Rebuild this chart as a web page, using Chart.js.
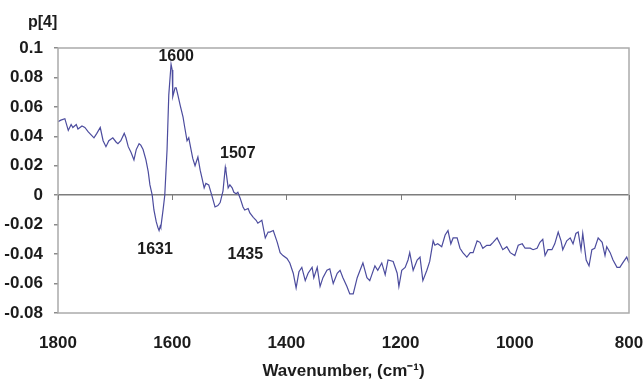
<!DOCTYPE html>
<html>
<head>
<meta charset="utf-8">
<title>p[4] loading</title>
<script src="https://cdn.jsdelivr.net/npm/chart.js@4.4.1/dist/chart.umd.min.js"></script>
<style>
  html, body { margin: 0; padding: 0; background: #fff; }
  canvas { display: block; }
</style>
</head>
<body>
<canvas id="chart" width="644" height="385"></canvas>
<script>
// ---------- Data ----------

// wavenumber (cm-1), high to low
const wavenumbers = [
  1800, 1795, 1788, 1782, 1777, 1774, 1768, 1765, 1758, 1753,
  1747, 1742, 1737, 1732, 1726, 1721, 1716, 1711, 1704, 1698,
  1695, 1690, 1684, 1681, 1677, 1672, 1667, 1663, 1658, 1655,
  1651, 1646, 1642, 1639, 1635, 1632, 1628, 1625, 1623, 1621,
  1620, 1616, 1613, 1609, 1606, 1602, 1600, 1599, 1595, 1593,
  1590, 1586, 1581, 1578, 1574, 1571, 1567, 1564, 1560, 1555,
  1551, 1548, 1544, 1541, 1536, 1530, 1525, 1520, 1516, 1511,
  1507, 1506, 1502, 1499, 1495, 1492, 1488, 1485, 1481, 1476,
  1473, 1467, 1464, 1458, 1453, 1450, 1443, 1437, 1432, 1429,
  1423, 1416, 1411, 1406, 1399, 1394, 1388, 1383, 1378, 1373,
  1367, 1362, 1355, 1352, 1346, 1341, 1336, 1329, 1324, 1318,
  1311, 1306, 1301, 1294, 1289, 1283, 1276, 1271, 1266, 1259,
  1254, 1245, 1240, 1233, 1227, 1222, 1213, 1206, 1203, 1198,
  1192, 1187, 1184, 1178, 1171, 1166, 1161, 1154, 1149, 1143,
  1140, 1135, 1128, 1122, 1117, 1112, 1108, 1101, 1096, 1091,
  1084, 1078, 1073, 1066, 1061, 1056, 1049, 1043, 1038, 1031,
  1026, 1021, 1014, 1008, 1000, 994, 987, 982, 973, 968,
  961, 956, 951, 947, 942, 935, 930, 924, 919, 916,
  909, 903, 898, 893, 889, 884, 881, 875, 870, 865,
  860, 854, 847, 842, 839, 833, 828, 821, 816, 811,
  804, 800,
];

// loading p[4] at each wavenumber
const loadings = [
  0.050, 0.051, 0.052, 0.044, 0.048, 0.046, 0.048, 0.045, 0.047, 0.046,
  0.043, 0.041, 0.039, 0.042, 0.046, 0.037, 0.033, 0.037, 0.039, 0.036,
  0.035, 0.037, 0.042, 0.039, 0.033, 0.029, 0.024, 0.031, 0.035, 0.034,
  0.031, 0.024, 0.016, 0.007, 0.000, -0.010, -0.018, -0.022, -0.024, -0.021,
  -0.022, -0.010, 0.000, 0.031, 0.068, 0.089, 0.085, 0.067, 0.073, 0.073,
  0.068, 0.061, 0.053, 0.046, 0.037, 0.039, 0.031, 0.025, 0.020, 0.026,
  0.017, 0.012, 0.005, 0.008, 0.007, -0.001, -0.008, -0.007, -0.005, 0.003,
  0.019, 0.017, 0.005, 0.007, 0.005, 0.002, 0.001, 0.002, -0.002, -0.008,
  -0.010, -0.009, -0.012, -0.015, -0.017, -0.019, -0.017, -0.029, -0.025, -0.025,
  -0.024, -0.032, -0.039, -0.041, -0.043, -0.046, -0.053, -0.063, -0.052, -0.049,
  -0.058, -0.053, -0.049, -0.056, -0.049, -0.062, -0.056, -0.051, -0.050, -0.060,
  -0.053, -0.051, -0.056, -0.062, -0.067, -0.067, -0.056, -0.051, -0.046, -0.056,
  -0.058, -0.048, -0.051, -0.046, -0.054, -0.044, -0.045, -0.053, -0.062, -0.051,
  -0.049, -0.044, -0.039, -0.051, -0.044, -0.042, -0.058, -0.051, -0.045, -0.031,
  -0.034, -0.033, -0.035, -0.027, -0.024, -0.033, -0.029, -0.029, -0.036, -0.039,
  -0.042, -0.039, -0.039, -0.031, -0.032, -0.036, -0.034, -0.034, -0.032, -0.029,
  -0.033, -0.037, -0.035, -0.039, -0.041, -0.034, -0.033, -0.036, -0.036, -0.037,
  -0.036, -0.032, -0.030, -0.041, -0.037, -0.037, -0.033, -0.025, -0.031, -0.037,
  -0.031, -0.029, -0.033, -0.026, -0.025, -0.037, -0.026, -0.044, -0.048, -0.037,
  -0.036, -0.029, -0.032, -0.041, -0.035, -0.039, -0.044, -0.049, -0.049, -0.046,
  -0.042, -0.046,
];

// band labels and where their text sits (wavenumber, p[4])
const bandLabels = ['1600', '1507', '1631', '1435'];
const bandLabelX = [1593, 1485, 1630, 1472];
const bandLabelY = [0.094, 0.028, -0.037, -0.040];

const xTitle = 'Wavenumber, (cm⁻¹)';
const yCaption = 'p[4]';

// ---------- Chart ----------

const FONT = '"Liberation Sans", Arial, sans-serif';
const INK = '#1c1c1c';

Chart.defaults.font.family = FONT;
Chart.defaults.font.size = 17;
Chart.defaults.font.weight = 'bold';
Chart.defaults.color = INK;

const points = wavenumbers.map((w, i) => ({ x: w, y: loadings[i] }));

// frame, little marks on the zero line, band labels, p[4] caption
const spectrumDecor = {
  id: 'spectrumDecor',
  afterDraw(chart) {
    const { ctx, chartArea: a, scales: { x, y } } = chart;
    ctx.save();

    ctx.strokeStyle = '#ababab';
    ctx.lineWidth = 1.5;
    ctx.strokeRect(a.left, a.top, a.right - a.left, a.bottom - a.top);

    const y0 = Math.round(y.getPixelForValue(0));
    ctx.strokeStyle = '#7d7d7d';
    ctx.lineWidth = 1;
    x.ticks.forEach(t => {
      const px = Math.round(x.getPixelForValue(t.value)) + 0.5;
      ctx.beginPath();
      ctx.moveTo(px, y0);
      ctx.lineTo(px, y0 + 5);
      ctx.stroke();
    });

    ctx.fillStyle = INK;
    ctx.font = 'bold 16px ' + FONT;
    ctx.textAlign = 'center';
    ctx.textBaseline = 'middle';
    bandLabels.forEach((txt, i) => {
      ctx.fillText(txt, x.getPixelForValue(bandLabelX[i]), y.getPixelForValue(bandLabelY[i]));
    });

    ctx.textAlign = 'left';
    ctx.fillText(yCaption, 28, 23);
    ctx.restore();
  },
};

new Chart(document.getElementById('chart'), {
  type: 'line',
  data: {
    datasets: [{
      data: points,
      borderColor: '#4c4c9e',
      borderWidth: 1.2,
      pointRadius: 0,
      tension: 0,
      fill: false,
    }],
  },
  options: {
    responsive: false,
    animation: false,
    devicePixelRatio: 1,
    layout: { padding: { top: 48, right: 15, left: 0, bottom: 0 } },
    plugins: {
      legend: { display: false },
      tooltip: { enabled: false },
    },
    scales: {
      x: {
        type: 'linear',
        reverse: true,
        min: 800,
        max: 1800,
        border: { display: false },
        grid: { display: false },
        ticks: {
          stepSize: 200,
          padding: 12,
          maxRotation: 0,
          callback: (v) => String(v),
        },
        title: {
          display: true,
          text: xTitle,
          font: { size: 17, weight: 'bold' },
          padding: { top: 0, bottom: 3 },
        },
        afterFit: (scale) => {
          scale.height = 72;
          // labels may hang past the plot edges, keep the plot full width
          scale.paddingLeft = 0;
          scale.paddingRight = 0;
        },
      },
      y: {
        min: -0.08,
        max: 0.1,
        border: { display: false },
        grid: {
          color: (c) => (c.tick && c.tick.value === 0 ? '#7d7d7d' : 'rgba(0,0,0,0)'),
          tickColor: '#8a8a8a',
          tickLength: 4,
          lineWidth: 1.5,
        },
        ticks: {
          stepSize: 0.02,
          padding: 11,
          callback: (v) => String(Math.round(v * 100) / 100),
        },
        afterFit: (scale) => { scale.width = 58; },
      },
    },
  },
  plugins: [spectrumDecor],
});
</script>
</body>
</html>
